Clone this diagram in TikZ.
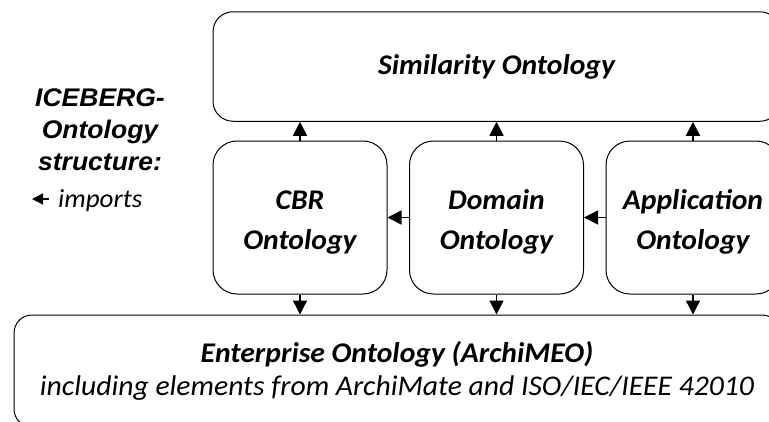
\documentclass[tikz,border=0pt]{standalone}
\usepackage{fontspec}
\setmainfont{Carlito}
\newfontfamily\boxfont[FakeStretch=1.04]{Carlito}
\newfontfamily\titlefont[FakeStretch=1.04]{Liberation Sans}
\usetikzlibrary{arrows.meta}
\begin{document}
\begin{tikzpicture}[x=1pt,y=-1pt,
  obox/.style={draw=black, line width=1pt, inner sep=0pt, align=center,
    font=\boxfont\bfseries\itshape\fontsize{28.5}{40}\selectfont},
  imp/.style={-{Triangle[length=14pt,width=14pt]}, line width=1.4pt},
  legendarrow/.style={-{Triangle[length=11pt,width=11pt]}, line width=1.4pt},
]
\useasboundingbox (0,0) rectangle (769,421);
\clip (0,0) rectangle (769,421);

\node[obox, rounded corners=20pt, minimum width=567pt, minimum height=109.5pt] (sim) at (496.5,66.5) {Similarity Ontology};
\node[obox, rounded corners=24pt, minimum width=174pt, minimum height=153pt] (cbr) at (300,217.5) {\rule{0pt}{29pt}CBR\\Ontology};
\node[obox, rounded corners=24pt, minimum width=174pt, minimum height=153pt] (dom) at (496.5,217.5) {\rule{0pt}{29pt}Domain\\Ontology};
\node[obox, rounded corners=24pt, minimum width=174pt, minimum height=153pt] (app) at (693,217.5) {\rule{0pt}{29pt}Application\\Ontology};
\node[obox, rounded corners=18pt, minimum width=766pt, minimum height=112pt] (ent) at (397,371)
  {Enterprise Ontology (ArchiMEO)\\[-7pt]{\mdseries including elements from ArchiMate and ISO/IEC/IEEE 42010}};

\draw[imp] (cbr.north) -- (sim.south -| cbr.north);
\draw[imp] (dom.north) -- (sim.south -| dom.north);
\draw[imp] (app.north) -- (sim.south -| app.north);
\draw[imp] (cbr.south) -- (ent.north -| cbr.south);
\draw[imp] (dom.south) -- (ent.north -| dom.south);
\draw[imp] (app.south) -- (ent.north -| app.south);
\draw[imp] (dom.west) -- (cbr.east);
\draw[imp] (app.west) -- (dom.east);

\node[inner sep=0pt, align=center, font=\titlefont\bfseries\itshape\fontsize{25.5}{32}\selectfont] (title) at (100,130) {ICEBERG-\\Ontology\\structure:};
\coordinate (la) at (49,199);
\coordinate (lb) at (32,199);
\draw[legendarrow] (la) -- (lb);
\node[inner sep=0pt, anchor=base west, font=\boxfont\itshape\fontsize{26}{30}\selectfont] (imp) at (58,207) {imports};
\end{tikzpicture}
\end{document}
